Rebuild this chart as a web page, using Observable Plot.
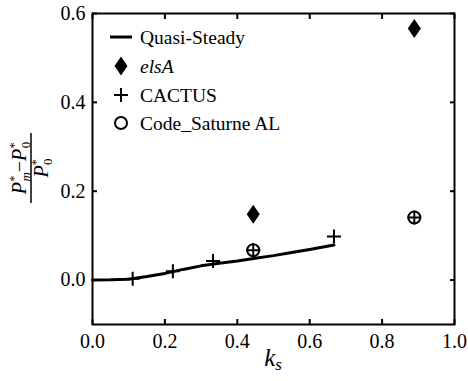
<!DOCTYPE html>
<html><head><meta charset="utf-8">
<script src="https://cdn.jsdelivr.net/npm/d3@7"></script>
<script src="https://cdn.jsdelivr.net/npm/@observablehq/plot@0.6"></script>
<style>body{margin:0;background:#fff} svg text{font-family:"Liberation Serif","Times New Roman",serif !important}</style>
</head><body><div id="chart"></div>
<script>
// Quasi-Steady curve
const qsX = [0, 0.05, 0.1, 0.15, 0.2, 0.25, 0.3, 0.35, 0.4, 0.45, 0.5, 0.55, 0.6, 0.667];
const qsY = [0, 0.0005, 0.002, 0.008, 0.015, 0.024, 0.032, 0.038, 0.043, 0.049, 0.055, 0.062, 0.069, 0.079];
// elsA
const elsaX = [0.444, 0.889];
const elsaY = [0.148, 0.566];
// CACTUS
const cactusX = [0.111, 0.222, 0.333, 0.444, 0.667, 0.889];
const cactusY = [0.003, 0.020, 0.043, 0.067, 0.098, 0.141];
// Code_Saturne AL
const csX = [0.444, 0.889];
const csY = [0.067, 0.141];
// ticks
const xTicks = [0, 0.2, 0.4, 0.6, 0.8, 1.0];
const yTicks = [0, 0.2, 0.4, 0.6];
const legendLabels = ["Quasi-Steady", "elsA", "CACTUS", "Code_Saturne AL"];

const FONT = "'Liberation Serif', 'Times New Roman', serif";
const thinDiamond = {draw(c) { c.moveTo(0, -9.5); c.lineTo(6.5, 0); c.lineTo(0, 9.5); c.lineTo(-6.5, 0); c.closePath(); }};
const plusSym = {draw(c) { c.moveTo(-7, 0); c.lineTo(7, 0); c.moveTo(0, -7); c.lineTo(0, 7); }};

const qs = qsX.map((x, i) => ({x, y: qsY[i]}));
const elsa = elsaX.map((x, i) => ({x, y: elsaY[i]}));
const cactus = cactusX.map((x, i) => ({x, y: cactusY[i]}));
const cs = csX.map((x, i) => ({x, y: csY[i]}));
const fmt = d3.format(".1f");

const chart = Plot.plot({
  width: 468, height: 381,
  marginLeft: 92, marginRight: 14, marginTop: 13, marginBottom: 57,
  style: {fontFamily: FONT, background: "#fff", color: "#000"},
  x: {domain: [0, 1]},
  y: {domain: [-0.1, 0.6]},
  marks: [
    Plot.line(qs, {x: "x", y: "y", stroke: "#000", strokeWidth: 3}),
    Plot.dot(elsa, {x: "x", y: "y", symbol: thinDiamond, fill: "#000", stroke: "none"}),
    Plot.dot(cs, {x: "x", y: "y", r: 6, symbol: "circle", fill: "none", stroke: "#000", strokeWidth: 2}),
    Plot.dot(cactus, {x: "x", y: "y", symbol: plusSym, fill: "none", stroke: "#000", strokeWidth: 2}),
    Plot.axisX(xTicks, {anchor: "bottom", tickSize: -5, tickPadding: 14, tickFormat: fmt, fontSize: 20, label: null, strokeWidth: 2}),
    Plot.axisX(xTicks, {anchor: "top", tickSize: -5, tickFormat: () => "", label: null, strokeWidth: 2}),
    Plot.axisY(yTicks, {anchor: "left", tickSize: -5, tickPadding: 12, tickFormat: fmt, fontSize: 20, label: null, strokeWidth: 2}),
    Plot.axisY(yTicks, {anchor: "right", tickSize: -5, tickFormat: () => "", label: null, strokeWidth: 2}),
    Plot.frame({stroke: "#000", strokeWidth: 2})
  ]
});
document.getElementById("chart").appendChild(chart);

const svg = d3.select(chart);
// x label
const xl = svg.append("text").attr("x", 273).attr("y", 366).attr("text-anchor", "middle")
  .attr("font-size", 25).attr("fill", "#000");
xl.append("tspan").attr("font-style", "italic").text("k");
xl.append("tspan").attr("font-style", "italic").attr("font-size", 17).attr("dy", 4).text("s");

// y label fraction
const g = svg.append("g").attr("transform", "translate(31,168) rotate(-90)").attr("fill", "#000");
g.append("line").attr("x1", -35).attr("x2", 35).attr("y1", 0).attr("y2", 0).attr("stroke", "#000").attr("stroke-width", 1.5);
const num = g.append("text").attr("x", 0).attr("y", -5).attr("text-anchor", "middle").attr("font-size", 20);
num.append("tspan").attr("font-style", "italic").text("P");
num.append("tspan").attr("font-size", 13).attr("dy", -8).text("*");
num.append("tspan").attr("font-size", 13).attr("font-style", "italic").attr("dx", -6).attr("dy", 12).text("m");
num.append("tspan").attr("dy", -4).text("−");
num.append("tspan").attr("font-style", "italic").text("P");
num.append("tspan").attr("font-size", 13).attr("dy", -8).text("*");
num.append("tspan").attr("font-size", 13).attr("dx", -6).attr("dy", 12).text("0");
const den = g.append("text").attr("x", 0).attr("y", 17).attr("text-anchor", "middle").attr("font-size", 20);
den.append("tspan").attr("font-style", "italic").text("P");
den.append("tspan").attr("font-size", 13).attr("dy", -8).text("*");
den.append("tspan").attr("font-size", 13).attr("dx", -6).attr("dy", 12).text("0");

// legend
const lg = svg.append("g").attr("font-size", 19.5).attr("fill", "#000").attr("text-anchor", "start");
const rows = [37, 66, 95, 123];
lg.append("line").attr("x1", 110).attr("x2", 132).attr("y1", rows[0]).attr("y2", rows[0]).attr("stroke", "#000").attr("stroke-width", 3);
const dp = d3.path(); thinDiamond.draw(dp);
lg.append("path").attr("d", dp.toString()).attr("transform", `translate(121,${rows[1]})`).attr("fill", "#000");
const pp = d3.path(); plusSym.draw(pp);
lg.append("path").attr("d", pp.toString()).attr("transform", `translate(121,${rows[2]})`).attr("fill", "none").attr("stroke", "#000").attr("stroke-width", 2);
lg.append("circle").attr("cx", 121).attr("cy", rows[3]).attr("r", 6).attr("fill", "none").attr("stroke", "#000").attr("stroke-width", 2);
legendLabels.forEach((t, i) => {
  lg.append("text").attr("x", 140).attr("y", rows[i]).attr("dy", "0.35em").attr("text-anchor", "start")
    .attr("font-style", i === 1 ? "italic" : null).text(t);
});
</script>
</body></html>
